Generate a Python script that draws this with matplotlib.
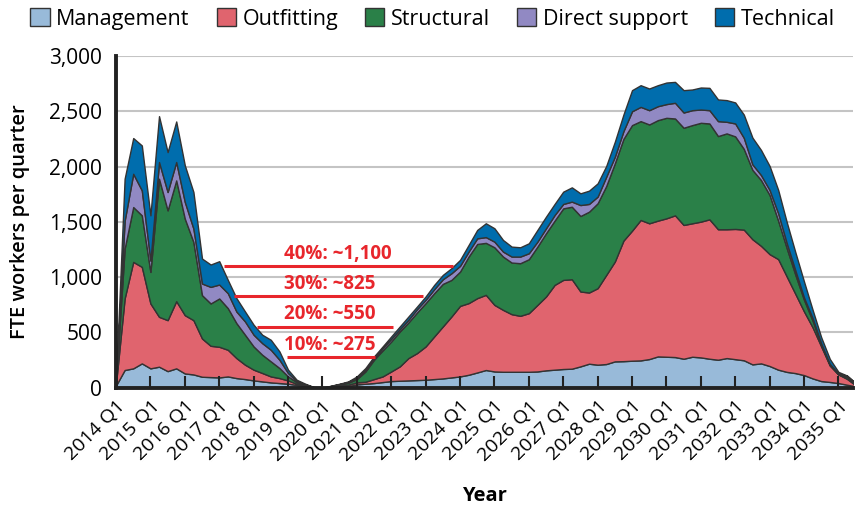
import numpy as np
import matplotlib
matplotlib.use('Agg')
import matplotlib.pyplot as plt

plt.rcParams['font.family'] = ['Open Sans', 'DejaVu Sans']

# quarterly FTE values, 2014 Q1 .. 2035 Q3
management = [20, 160, 175, 220, 175, 190, 150, 175, 129, 120, 99, 96, 93, 102, 87, 78, 66, 57, 48, 42,
              36, 25, 10, 2, 0, 5, 10, 15, 30, 36, 42, 51, 60, 63, 66, 69, 72, 78, 84, 93,
              102, 117, 138, 160, 147, 144, 144, 144, 144, 147, 157, 163, 169, 172, 193, 217, 208, 214, 238, 240,
              244, 247, 259, 283, 280, 277, 262, 280, 274, 262, 253, 268, 258, 248, 211, 220, 196, 163, 143, 132,
              114, 84, 60, 52, 42, 27, 12]
outfitting = [20, 647, 963, 873, 587, 451, 461, 608, 527, 491, 346, 283, 277, 241, 181, 130, 97, 76, 54, 45,
              30, 10, 8, 1, 0, 5, 10, 13, 18, 18, 36, 51, 87, 130, 202, 244, 301, 386, 470, 551,
              638, 648, 672, 680, 602, 560, 521, 506, 530, 602, 668, 767, 806, 809, 677, 644, 692, 806, 903, 1090,
              1176, 1270, 1228, 1228, 1252, 1282, 1210, 1207, 1228, 1261, 1180, 1165, 1178, 1182, 1132, 1063, 1012, 1000, 862, 716,
              576, 462, 313, 148, 78, 53, 10]
structural = [15, 451, 496, 466, 285, 1249, 993, 1092, 873, 707, 392, 383, 437, 377, 316, 271, 210, 165, 136, 91,
              36, 15, 7, 1, 0, 4, 10, 17, 30, 93, 175, 235, 271, 316, 322, 367, 392, 391, 385, 331,
              310, 421, 490, 470, 521, 482, 467, 476, 488, 527, 572, 581, 647, 656, 683, 731, 768, 804, 888, 920,
              955, 894, 894, 909, 909, 876, 879, 888, 894, 867, 843, 867, 837, 730, 627, 595, 535, 347, 255, 172,
              105, 60, 15, 8, 0, 18, 8]
direct_support = [7, 252, 301, 226, 103, 151, 166, 166, 151, 121, 105, 150, 126, 135, 105, 120, 106, 105, 105, 75,
                  31, 10, 5, 1, 0, 2, 3, 6, 12, 16, 15, 21, 24, 21, 24, 30, 30, 36, 42, 60,
                  52, 45, 51, 52, 51, 45, 54, 60, 54, 45, 45, 51, 40, 46, 99, 70, 60, 84, 60, 70,
                  125, 129, 129, 126, 124, 142, 138, 135, 120, 120, 135, 105, 117, 100, 50, 45, 45, 67, 46, 40,
                  21, 23, 12, 7, 8, 10, 10]
technical = [8, 380, 323, 406, 409, 415, 361, 367, 331, 331, 226, 202, 211, 120, 121, 90, 90, 76, 90, 75,
             30, 12, 6, 1, 0, 2, 3, 6, 12, 15, 15, 15, 22, 24, 30, 24, 30, 39, 39, 46,
             54, 60, 76, 125, 121, 105, 90, 84, 90, 106, 105, 100, 111, 129, 106, 120, 120, 97, 135, 150,
             191, 196, 196, 190, 195, 189, 202, 187, 199, 202, 196, 196, 190, 210, 242, 227, 217, 211, 189, 163,
             144, 75, 56, 45, 15, 2, 0]

series_names = ['Management', 'Outfitting', 'Structural', 'Direct support', 'Technical']
colors = ['#98bad9', '#e0646e', '#2a8048', '#9189c3', '#006dad']

tick_labels = [f'{y} Q1' for y in range(2014, 2036)]

# workforce share thresholds (label, value, start quarter, end quarter)
thresholds = ['40%: ~1,100', '30%: ~825', '20%: ~550', '10%: ~275']
threshold_values = [1100, 825, 550, 275]
threshold_start = [12.5, 13.7, 16.4, 19.9]
threshold_end = [39.2, 35.7, 32.2, 30.1]

quarters = np.arange(len(management))

fig = plt.figure(figsize=(8.55, 5.11), dpi=100)
ax = fig.add_axes([0.1357, 0.2413, 0.862, 0.6491])

# grid drawn by hand so it stays under the areas while ticks sit on top
for v in range(500, 3001, 500):
    ax.axhline(v, color='#c4c4c4', lw=1.5, zorder=1)

ax.stackplot(quarters, management, outfitting, structural, direct_support, technical,
             colors=colors, labels=series_names, linewidth=0, zorder=2)

for lab, val, x0, x1 in zip(thresholds, threshold_values, threshold_start, threshold_end):
    ax.plot([x0, x1], [val, val], color='#e8262c', lw=2.2, zorder=3, solid_capstyle='butt')
    ax.text(19.5, val + 22, lab, color='#e8262c', fontsize=13.5, fontweight='bold',
            ha='left', va='bottom', zorder=4)

ax.set_xlim(0, 85.7)
ax.set_ylim(0, 3000)
ax.set_axisbelow(False)
ax.set_yticks(range(0, 3001, 500))
ax.set_yticklabels([f'{v:,}' for v in range(0, 3001, 500)], fontsize=15)
ax.set_xticks(range(0, 88, 4))
ax.set_xticklabels(tick_labels, rotation=45, ha='right', rotation_mode='anchor', fontsize=14)
ax.tick_params(axis='x', direction='in', length=9, width=1.5, color='#222222', pad=7)
ax.tick_params(axis='y', length=0, pad=10)

for s in ['top', 'right']:
    ax.spines[s].set_visible(False)
for s in ['left', 'bottom']:
    ax.spines[s].set_linewidth(2.8)
    ax.spines[s].set_color('#222222')
    ax.spines[s].set_zorder(5)

ax.set_ylabel('FTE workers per quarter', fontsize=14.5, fontweight='semibold', labelpad=14)
ax.set_xlabel('Year', fontsize=14.5, fontweight='bold', labelpad=16)

handles, labels = ax.get_legend_handles_labels()
for h in handles:
    h.set_edgecolor('#333333')
    h.set_linewidth(1.0)
fig.legend(handles, labels, loc='center', bbox_to_anchor=(0.506, 0.963), ncol=5, frameon=False,
           fontsize=15.5, handlelength=0.9, handleheight=0.9, handletextpad=0.3, columnspacing=1.25)

fig.savefig('out.png', dpi=100)
